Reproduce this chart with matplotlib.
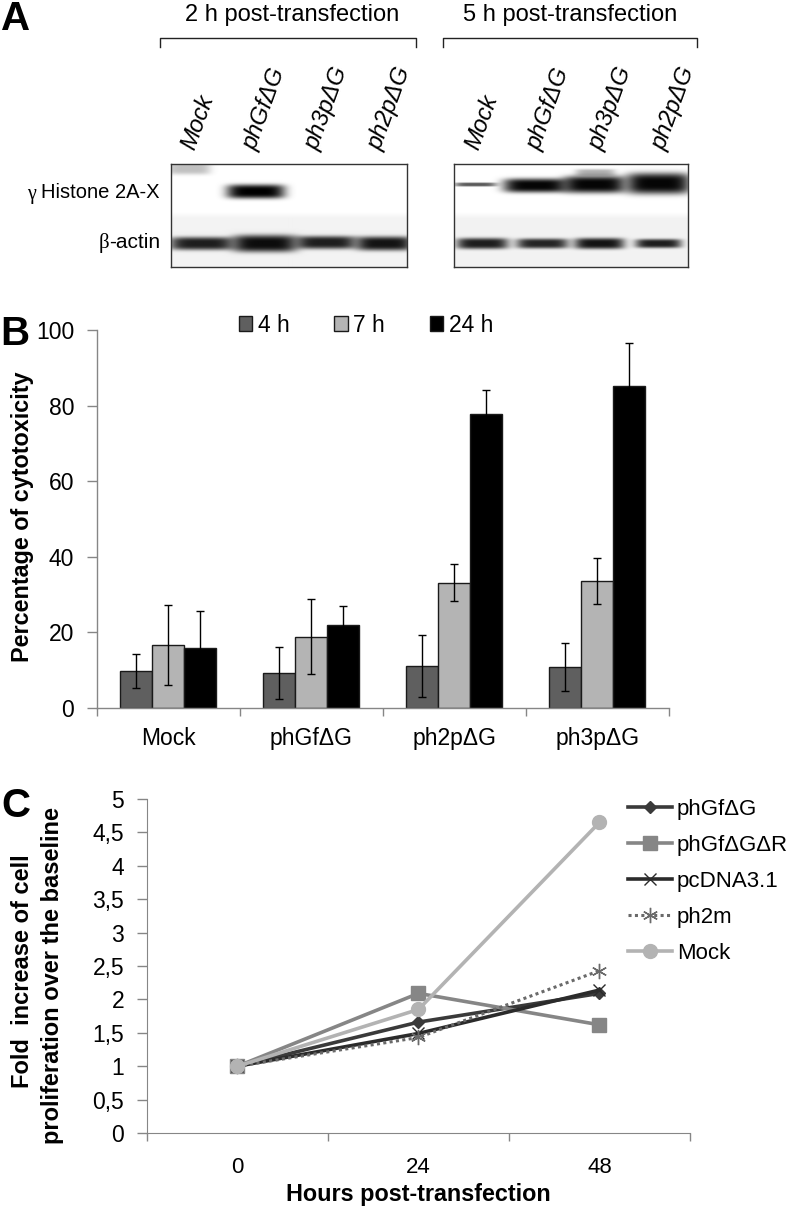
# western blot panel, cytotoxicity bars and proliferation lines
import numpy as np
import matplotlib
matplotlib.use('Agg')
import matplotlib.pyplot as plt
from matplotlib.patches import Patch

plt.rcParams['font.family'] = ['Liberation Sans', 'DejaVu Sans']

W, H = 792, 1209

# panel A
lanes_a = ['Mock', 'phGf\u0394G', 'ph3p\u0394G', 'ph2p\u0394G']
titles_a = ['2 h post-transfection', '5 h post-transfection']
# blot bands: centre x, centre y, half width, half height, darkness
bands_left = [(201, 243, 32, 6.5, 0.88), (264, 243, 32, 8.5, 0.95), (325, 242, 30, 6.5, 0.88),
              (383, 243, 28, 7, 0.92), (255, 191, 29, 7, 1.0), (188, 168, 22, 6, 0.25)]
bands_right = [(475, 184, 21, 2, 0.65), (535, 185, 32, 7, 0.98), (594, 184, 31, 8.5, 0.98),
               (658, 183, 32, 10.5, 0.98), (595, 172, 20, 3.5, 0.3),
               (482, 243, 26, 5.5, 0.88), (542, 243, 26, 5, 0.85), (599, 243, 25, 5.5, 0.92),
               (658, 243, 23, 4.5, 0.88)]

# panel B
groups = ['Mock', 'phGf\u0394G', 'ph2p\u0394G', 'ph3p\u0394G']
times = ['4 h', '7 h', '24 h']
cyto_4h = [9.8, 9.3, 11.1, 10.8]
cyto_7h = [16.7, 18.9, 33.1, 33.6]
cyto_24h = [16.0, 21.9, 77.7, 85.3]
err_4h = [4.4, 6.9, 8.2, 6.3]
err_7h = [10.5, 9.9, 4.9, 6.0]
err_24h = [9.7, 5.0, 6.4, 11.2]

# panel C
hours = ['0', '24', '48']
y_labels_c = ['0', '0,5', '1', '1,5', '2', '2,5', '3', '3,5', '4', '4,5', '5']
y_ticks_c = [0, 0.5, 1, 1.5, 2, 2.5, 3, 3.5, 4, 4.5, 5]
phGf = [1, 1.66, 2.09]
phGfR = [1, 2.09, 1.62]
pcDNA = [1, 1.49, 2.14]
ph2m = [1, 1.43, 2.43]
mock = [1, 1.85, 4.65]

GREY = '#868686'


def px_axes(fig, left, top, right, bottom, **kw):
    return fig.add_axes([left/W, 1-bottom/H, (right-left)/W, (bottom-top)/H], **kw)


def blot(ax, x0, x1, bands):
    xs, ys = np.meshgrid(np.arange(x0, x1), np.arange(164, 267))
    keep = np.ones(xs.shape)
    # faint membrane background behind the actin row
    keep *= 1-0.05*np.clip((ys-212)/6, 0, 1)
    for cx, cy, hw, hh, d in bands:
        r = np.abs((xs-cx)/hw)**5+np.abs((ys-cy)/hh)**3.5
        keep *= 1-d*np.exp(-r)
    ax.imshow(keep, cmap='gray', vmin=0, vmax=1, aspect='auto',
              extent=(x0, x1, 267, 164), interpolation='bilinear')
    ax.set_xticks([])
    ax.set_yticks([])
    for s in ax.spines.values():
        s.set_color('#333333')
        s.set_linewidth(1.0)


fig = plt.figure(figsize=(W/100, H/100), dpi=100)

# page overlay in pixel coordinates, for panel letters and blot labels
page = fig.add_axes([0, 0, 1, 1])
page.set_xlim(0, W)
page.set_ylim(H, 0)
page.axis('off')

for letter, x, y in [('A', 16, 19), ('B', 15, 334), ('C', 16, 806)]:
    page.text(x, y, letter, fontsize=29, fontweight='bold', ha='center', va='center')

for title, xc, (bl, br) in zip(titles_a, [292, 570], [(160, 416), (443, 697)]):
    page.text(xc, 15, title, fontsize=17, ha='center', va='center')
    page.plot([bl, bl, br, br], [47, 38, 38, 47], color='#222222', lw=1.0)

for lane_x in ([188, 250, 312, 375], [472, 534, 596, 659]):
    for lane, x in zip(lanes_a, lane_x):
        page.text(x, 149, lane, fontsize=17, style='italic', rotation=70,
                  rotation_mode='anchor', ha='left', va='center')

page.text(27, 194, '\u03b3', fontsize=14.5, family='Liberation Serif', ha='left', va='center')
page.text(41, 193, 'Histone 2A-X', fontsize=14.5, ha='left', va='center')
page.text(99, 243, '\u03b2', fontsize=15, family='Liberation Serif', ha='left', va='center')
page.text(109, 243, '-actin', fontsize=15, ha='left', va='center')

blot(px_axes(fig, 170.5, 164, 407, 267), 171, 407, bands_left)
blot(px_axes(fig, 454, 164, 688, 267), 454, 688, bands_right)

# panel B
ax = px_axes(fig, 96.5, 330, 669, 708)
x = np.arange(len(groups))+0.5
width = 0.2238
cols = ['#5f5f5f', '#b4b4b4', '#000000']
for i, (vals, errs, col) in enumerate(zip([cyto_4h, cyto_7h, cyto_24h],
                                          [err_4h, err_7h, err_24h], cols)):
    ax.bar(x+(i-1)*width, vals, width, color=col, edgecolor='#1a1a1a', linewidth=1.0,
           yerr=errs, error_kw=dict(ecolor='black', elinewidth=1.0, capsize=2.6, capthick=1.0))
ax.set_xlim(0, 4)
ax.set_ylim(0, 100)
ax.set_yticks(range(0, 101, 20))
ax.set_xticks(np.arange(5))
ax.set_xticklabels([])
ax.set_xticks(x, minor=True)
ax.set_xticklabels(groups, minor=True, fontsize=16.5)
ax.tick_params(axis='x', which='minor', length=0, pad=13.5)
ax.tick_params(axis='x', which='major', length=6, color=GREY, width=1)
ax.tick_params(axis='y', length=7, color=GREY, width=1, labelsize=16.5, pad=9)
ax.spines[['top', 'right']].set_visible(False)
ax.spines[['left', 'bottom']].set_color(GREY)
ax.spines[['left', 'bottom']].set_linewidth(1.0)
ax.set_ylabel('Percentage of cytotoxicity', fontsize=16.8, fontweight='bold', va='center')
ax.yaxis.set_label_coords((23-96.5)/572.5, (708-517)/378)
ax.patch.set_alpha(0)
leg_handles = [Patch(facecolor=c, edgecolor='#1a1a1a', label=t) for c, t in zip(cols, times)]
fig.legend(handles=leg_handles, loc='center left', bbox_to_anchor=(239/W, 1-325/H), ncols=3,
           frameon=False, fontsize=16.5, handlelength=0.58, handleheight=0.58,
           handletextpad=0.25, columnspacing=1.95, borderpad=0, borderaxespad=0)

# panel C
ax2 = px_axes(fig, 147, 799, 690, 1133)
xc = np.arange(len(hours))+0.5
ax2.plot(xc, phGf, color='#3a3a3a', lw=2.6, marker='D', ms=6.5, label='phGf\u0394G')
ax2.plot(xc, phGfR, color='#868686', lw=2.6, marker='s', ms=9.5, label='phGf\u0394G\u0394R')
ax2.plot(xc, pcDNA, color='#2b2b2b', lw=2.6, marker='x', ms=8.5, mew=1.0, label='pcDNA3.1')
ax2.plot(xc, ph2m, color='#6a6a6a', lw=2.2, ls=(0, (1, 1.1)), marker=(6, 2, 0), ms=11, mew=1.0,
         label='ph2m')
ax2.plot(xc, mock, color='#b3b3b3', lw=2.6, marker='o', ms=10, label='Mock')
ax2.set_xlim(0, 3)
ax2.set_ylim(0, 5)
ax2.set_yticks(y_ticks_c)
ax2.set_yticklabels(y_labels_c)
ax2.set_xticks(np.arange(4))
ax2.set_xticklabels([])
ax2.set_xticks(xc, minor=True)
ax2.set_xticklabels(hours, minor=True, fontsize=16)
ax2.tick_params(axis='x', which='minor', length=0, pad=17)
ax2.tick_params(axis='x', which='major', length=6, color=GREY, width=1)
ax2.tick_params(axis='y', length=7, color=GREY, width=1, labelsize=16.5, pad=9.4)
ax2.spines[['top', 'right']].set_visible(False)
ax2.spines[['left', 'bottom']].set_color(GREY)
ax2.set_xlabel('Hours post-transfection', fontsize=16.8, fontweight='bold', labelpad=4)
ax2.patch.set_alpha(0)
ax2.legend(loc='upper left', bbox_to_anchor=(628/W, 1-799/H), bbox_transform=fig.transFigure,
           frameon=False, fontsize=16, handlelength=2.0, handletextpad=0.2, labelspacing=0.67,
           borderpad=0, borderaxespad=0)
# two separate lines so the block does not run into the panel letter
page.text(23, 971, 'Fold  increase of cell', fontsize=17, fontweight='bold', rotation=90,
          ha='center', va='center')
page.text(53, 975, 'proliferation over the baseline', fontsize=17, fontweight='bold', rotation=90,
          ha='center', va='center')

fig.savefig('out.png', dpi=100)
